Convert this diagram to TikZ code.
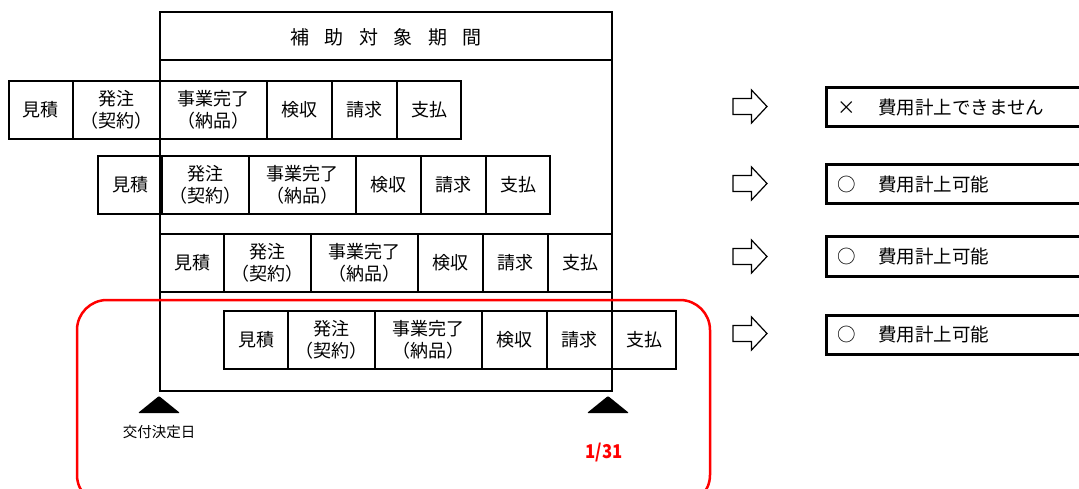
\documentclass[tikz,border=0pt]{standalone}
\usepackage{fontspec}
\setmainfont{Noto Sans CJK JP}
\tikzset{
  cell/.style={draw, line width=1.5pt, minimum height=58pt, inner sep=0pt, outer sep=0pt,
    anchor=north west, align=center, font=\fontsize{18}{22}\selectfont},
  framebox/.style={draw, line width=1.5pt, inner sep=0pt, outer sep=0pt, anchor=north west},
  blockarrow/.style={draw, line width=1.2pt, line join=miter},
  resultborder/.style={draw, line width=3pt},
  resulttext/.style={anchor=west, inner sep=0pt, font=\fontsize{18.5}{18.5}\selectfont},
  marker/.style={fill=black, rounded corners=1pt},
  redframe/.style={draw=red, line width=2.5pt, rounded corners=30pt}
}
\newcommand\procrow[3]{%
  \node[cell, minimum width=64pt]  (#1a) at (#2,#3) {見積};
  \node[cell, minimum width=87pt]  (#1b) at (#1a.north east) {発注\\（契約）};
  \node[cell, minimum width=107pt] (#1c) at (#1b.north east) {事業完了\\（納品）};
  \node[cell, minimum width=65pt]  (#1d) at (#1c.north east) {検収};
  \node[cell, minimum width=65pt]  (#1e) at (#1d.north east) {請求};
  \node[cell, minimum width=64pt]  (#1f) at (#1e.north east) {支払};
}
\newcommand\resultrow[5]{% name, arrow centre y, box top, box bottom, text
  \coordinate (#1c) at (750,#2);
  \draw[blockarrow] (733,#2-8) -- (751.5,#2-8) -- (751.5,#2-16.5) -- (767,#2)
    -- (751.5,#2+16.5) -- (751.5,#2+8) -- (733,#2+8) -- cycle;
  \draw[resultborder] (1085,#3) -- (826,#3) -- (826,#4) -- (1085,#4);
  \node[resulttext] (#1t) at (840,{(#3+#4)/2}) {#5};
}
\begin{document}
\begin{tikzpicture}[x=1pt,y=-1pt]
  \useasboundingbox (0,0) rectangle (1079,489);
  \clip (0,0) rectangle (1079,489);
  % main frame
  \node[framebox, minimum width=452pt, minimum height=379pt] (frame) at (160,12) {};
  \draw[line width=1.5pt] (160,60) -- (612,60);
  \node[font=\fontsize{19}{19}\selectfont] (title) at (386,37)
    {補\hspace{15.4pt}助\hspace{15.4pt}対\hspace{15.4pt}象\hspace{15.4pt}期\hspace{15.4pt}間};
  % process rows
  \procrow{ra}{9}{81}
  \procrow{rb}{98}{156}
  \procrow{rc}{160}{234}
  \procrow{rd}{224}{311}
  % markers
  \fill[marker] (138,413) -- (159,396) -- (180,413) -- cycle;
  \fill[marker] (587,413) -- (608,396) -- (629,413) -- cycle;
  \node[font=\fontsize{14.5}{14.5}\selectfont] (kofu) at (159,432) {交付決定日};
  \node[text=red, font=\fontsize{19}{19}\selectfont\bfseries] (date) at (604,453) {\scalebox{0.88}[1]{1/31}};
  % red highlight
  \draw[redframe] (77,300) rectangle (710,505);
  % results
  \resultrow{s1}{106.5}{88}{127}{\makebox[14pt][c]{×}\hspace{24pt}費用計上できません}
  \resultrow{s2}{183.5}{165}{204}{\makebox[14pt][c]{○}\hspace{24pt}費用計上可能}
  \resultrow{s3}{256.5}{237}{276}{\makebox[14pt][c]{○}\hspace{24pt}費用計上可能}
  \resultrow{s4}{333.5}{315}{354}{\makebox[14pt][c]{○}\hspace{24pt}費用計上可能}
\end{tikzpicture}
\end{document}
